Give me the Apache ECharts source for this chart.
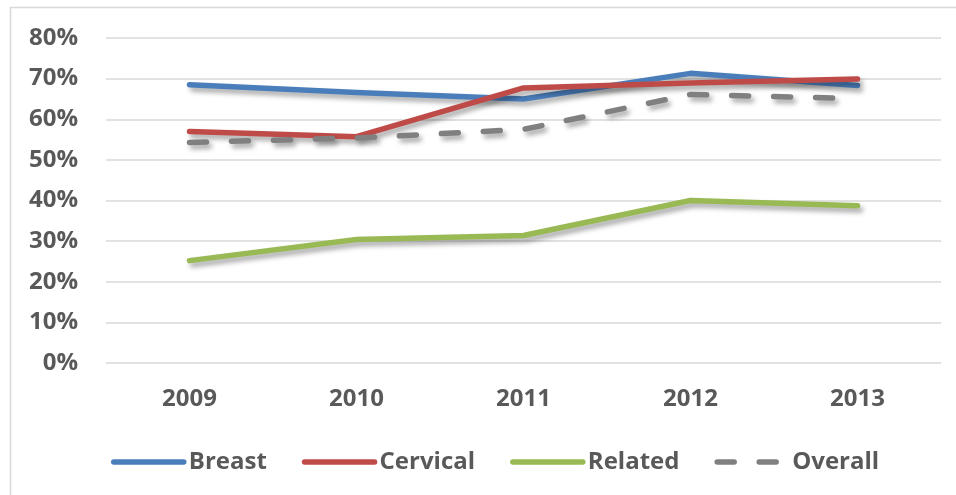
<!DOCTYPE html>
<html>
<head>
<meta charset="utf-8">
<script src="https://cdn.jsdelivr.net/npm/echarts@6/dist/echarts.min.js"></script>
<style>
  html, body { margin: 0; padding: 0; background: #ffffff; }
  #chart { width: 956px; height: 495px; }
</style>
</head>
<body>
<div id="chart"></div>
<script>
// Screening rates by year, in percent
const years = ['2009', '2010', '2011', '2012', '2013'];
const breast = [68.5, 66.6, 65.0, 71.3, 68.3];
const cervical = [57.0, 55.7, 67.7, 68.9, 69.9];
const related = [25.2, 30.4, 31.4, 40.0, 38.7];
const overall = [54.3, 55.4, 57.5, 66.1, 65.1];
const yTicks = [0, 10, 20, 30, 40, 50, 60, 70, 80];

const FONT = '"Open Sans"';
const TEXT = '#595959';

const shadow = {
  shadowColor: 'rgba(0,0,0,0.35)',
  shadowBlur: 5,
  shadowOffsetX: 3,
  shadowOffsetY: 4
};

function lineSeries(name, data, color, extra) {
  return {
    name: name,
    type: 'line',
    data: data,
    symbol: 'none',
    smooth: false,
    lineStyle: Object.assign({ color: color, width: 5.5, cap: 'round', join: 'round' }, shadow, extra || {}),
    itemStyle: { color: color }
  };
}

const chart = echarts.init(document.getElementById('chart'), null, { renderer: 'canvas' });
chart.setOption({
  animation: false,
  backgroundColor: '#ffffff',
  textStyle: { fontFamily: FONT },
  graphic: [{
    type: 'rect',
    shape: { x: 10.5, y: 7.5, width: 980, height: 520 },
    style: { fill: 'none', stroke: '#d9d9d9', lineWidth: 1.5 },
    silent: true,
    z: -1
  }],
  grid: { left: 106, right: 15, top: 38, bottom: 132 },
  xAxis: {
    type: 'category',
    data: years,
    boundaryGap: true,
    axisLine: { show: false },
    axisTick: { show: false },
    axisLabel: { color: TEXT, fontFamily: FONT, fontWeight: 'bold', fontSize: 24, margin: 24 }
  },
  yAxis: {
    type: 'value',
    min: yTicks[0],
    max: yTicks[yTicks.length - 1],
    interval: yTicks[1] - yTicks[0],
    axisLine: { show: false },
    axisTick: { show: false },
    splitLine: { lineStyle: { color: '#d9d9d9', width: 1.5 } },
    axisLabel: {
      color: TEXT, fontFamily: FONT, fontWeight: 'bold', fontSize: 24, margin: 28,
      formatter: v => v + '%'
    }
  },
  legend: {
    left: 106,
    top: 445,
    itemWidth: 70,
    itemHeight: 14,
    itemGap: 35,
    itemStyle: { opacity: 0 },
    lineStyle: { width: 5.5, cap: 'round', shadowBlur: 0, shadowOffsetX: 0, shadowOffsetY: 0 },
    textStyle: { color: TEXT, fontFamily: FONT, fontWeight: 'bold', fontSize: 24, padding: [0, 0, 0, 0] },
    data: ['Breast', 'Cervical', 'Related', 'Overall']
  },
  series: [
    lineSeries('Breast', breast, '#4a7ebb'),
    lineSeries('Cervical', cervical, '#be4b48'),
    lineSeries('Related', related, '#98b954'),
    lineSeries('Overall', overall, '#808080', { type: [17, 25], dashOffset: 0 })
  ]
});
</script>
</body>
</html>
